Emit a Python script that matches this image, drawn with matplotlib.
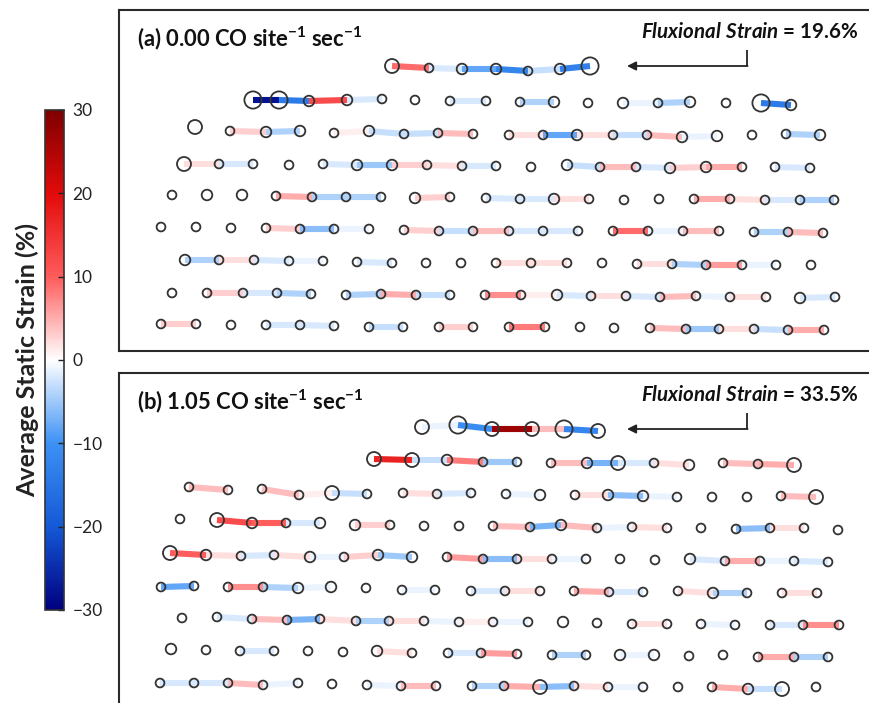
import numpy as np
import matplotlib
matplotlib.use('Agg')
import matplotlib.pyplot as plt
from matplotlib.colors import LinearSegmentedColormap, Normalize
from matplotlib.collections import LineCollection
from matplotlib.cm import ScalarMappable

n = np.nan

# ---------------- Panel (a): 0.00 CO site^-1 sec^-1 ----------------
a_x = [
    [392, 429, 462, 496, 528, 560, 590],
    [253, 279, 309, 347, 382, 415, 450, 486, 520, 554, 588, 623, 658, 690, 726, 761, 791],
    [195, 230, 266, 300, 334, 369, 404, 438, 473, 509, 543, 577, 613, 647, 682, 717, 752, 786, 820],
    [184, 219, 253, 289, 323, 357, 392, 427, 462, 496, 531, 567, 600, 636, 670, 706, 742, 775, 810],
    [172, 207, 242, 276, 312, 346, 381, 415, 450, 486, 520, 554, 589, 624, 659, 694, 730, 765, 800, 834],
    [161, 196, 231, 266, 300, 334, 369, 404, 439, 473, 509, 543, 578, 613, 648, 683, 719, 754, 788, 823],
    [185, 219, 254, 289, 323, 357, 392, 426, 461, 496, 531, 567, 602, 637, 672, 706, 742, 776, 811],
    [172, 207, 243, 277, 311, 346, 381, 416, 450, 485, 521, 557, 591, 626, 660, 696, 730, 766, 800, 835],
    [161, 196, 231, 266, 300, 334, 369, 403, 439, 473, 509, 545, 580, 614, 650, 686, 719, 754, 788, 824],
]
a_y = [
    [66, 68, 69, 69, 71, 69, 66],
    [100, 100, 101, 100, 99, 100, 101, 101, 102, 102, 103, 103, 103, 102, 103, 103, 105],
    [127, 131, 132, 131, 133, 131, 134, 133, 134, 135, 135, 135, 135, 135, 137, 136, 135, 134, 135],
    [164, 164, 164, 165, 164, 165, 165, 165, 166, 166, 167, 165, 167, 167, 168, 167, 167, 167, 168],
    [195, 195, 195, 196, 197, 197, 197, 198, 197, 198, 199, 199, 199, 200, 199, 199, 199, 200, 200, 200],
    [227, 227, 228, 228, 229, 229, 229, 230, 231, 231, 231, 231, 231, 231, 231, 231, 231, 232, 232, 233],
    [260, 260, 260, 261, 261, 262, 263, 263, 263, 263, 263, 263, 263, 264, 264, 265, 265, 265, 265],
    [293, 293, 293, 293, 294, 295, 294, 295, 295, 295, 295, 295, 296, 296, 297, 296, 297, 297, 298, 297],
    [324, 324, 325, 325, 325, 326, 327, 327, 327, 327, 327, 327, 327, 328, 328, 329, 329, 329, 330, 330],
]
a_size = [
    [3, 1, 2, 2, 1, 2, 4],
    [4, 4, 2, 2, 1, 1, 1, 1, 1, 2, 1, 2, 1, 2, 1, 4, 2],
    [3, 1, 2, 2, 1, 2, 1, 1, 1, 1, 1, 2, 1, 1, 2, 2, 1, 1, 2],
    [3, 1, 1, 1, 1, 2, 2, 1, 1, 1, 1, 2, 1, 1, 2, 2, 1, 1, 1],
    [1, 2, 2, 1, 1, 1, 1, 2, 1, 1, 1, 2, 1, 1, 1, 1, 1, 1, 1, 1],
    [1, 1, 1, 1, 1, 1, 1, 1, 1, 1, 1, 1, 1, 1, 1, 1, 1, 1, 1, 1],
    [2, 1, 1, 1, 1, 1, 1, 1, 1, 1, 1, 1, 1, 1, 1, 1, 1, 1, 1],
    [1, 1, 1, 1, 1, 1, 1, 1, 1, 1, 1, 2, 1, 1, 1, 1, 1, 1, 2, 1],
    [1, 1, 1, 1, 1, 1, 1, 1, 1, 1, 1, 1, 1, 1, 1, 1, 1, 1, 1, 1],
]
a_strain = [
    [9, -2, -8, -12, -3, -13],
    [-28, -14, 12, -2, n, n, -2, n, -4, n, n, -1, -4, n, n, -14],
    [n, 3, -4, n, 1, -3, -3, 4, n, 2, -8, 2, -3, 4, -1, n, n, -4],
    [2, -2, n, n, -2, -5, 3, 2, -2, n, n, -3, 4, -2, 3, 5, n, -2],
    [n, n, n, 5, -4, -4, n, 3, n, -2, -2, 2, n, n, n, 5, 2, -2, -4],
    [n, n, n, 3, -6, -1, n, 3, -3, 4, -2, -2, n, 9, -1, 4, n, -4, 4],
    [-4, 2, -2, -1, n, -2, n, n, n, 2, 2, n, n, 2, -4, 6, -1, n],
    [n, 3, -2, -4, n, -4, 5, -3, n, 7, 1, -2, 2, -2, 4, -1, 2, n, -2],
    [3, n, n, -2, -2, n, -3, n, 3, n, 8, n, n, n, 4, -5, 2, -3, 5],
]

# ---------------- Panel (b): 1.05 CO site^-1 sec^-1 ----------------
b_x = [
    [422, 458, 492, 532, 564, 598],
    [374, 412, 447, 483, 517, 551, 587, 618, 654, 689, 723, 758, 794],
    [189, 228, 262, 299, 332, 367, 403, 437, 471, 506, 540, 575, 608, 643, 677, 712, 747, 781, 816],
    [180, 217, 252, 286, 320, 355, 390, 424, 459, 493, 530, 561, 597, 632, 667, 701, 736, 770, 804, 838],
    [170, 206, 241, 274, 310, 344, 378, 412, 447, 483, 517, 552, 586, 620, 655, 690, 725, 760, 794, 828],
    [161, 194, 228, 263, 298, 331, 366, 402, 435, 471, 505, 540, 574, 609, 643, 678, 713, 747, 782, 817],
    [182, 217, 252, 287, 320, 356, 389, 424, 459, 493, 528, 563, 597, 632, 667, 701, 735, 770, 803, 839],
    [171, 206, 240, 274, 308, 343, 377, 412, 448, 481, 517, 552, 586, 620, 654, 689, 723, 758, 794, 828],
    [160, 194, 228, 263, 298, 332, 367, 401, 436, 472, 504, 540, 574, 608, 643, 678, 712, 748, 782, 816],
]
b_y = [
    [427, 425, 429, 429, 429, 431],
    [459, 460, 460, 462, 462, 463, 463, 463, 463, 465, 463, 464, 465],
    [487, 490, 489, 495, 493, 494, 493, 494, 493, 494, 495, 495, 495, 496, 497, 497, 497, 496, 497],
    [519, 520, 523, 523, 523, 525, 525, 526, 526, 526, 527, 525, 528, 527, 528, 528, 529, 528, 528, 530],
    [553, 555, 556, 555, 557, 557, 555, 557, 557, 559, 559, 559, 559, 559, 560, 559, 561, 561, 561, 562],
    [587, 586, 587, 587, 588, 587, 588, 590, 590, 591, 591, 591, 591, 592, 592, 591, 593, 593, 593, 593],
    [618, 617, 619, 620, 619, 621, 621, 621, 622, 622, 622, 622, 623, 624, 624, 624, 625, 625, 625, 625],
    [649, 650, 651, 651, 651, 652, 651, 653, 653, 653, 654, 655, 655, 655, 655, 656, 655, 657, 657, 657],
    [683, 683, 683, 685, 683, 684, 685, 686, 686, 686, 686, 687, 686, 687, 687, 687, 687, 689, 689, 687],
]
b_size = [
    [3, 4, 3, 3, 4, 3],
    [3, 3, 2, 1, 1, 1, 2, 3, 1, 2, 1, 1, 3],
    [1, 1, 1, 1, 3, 1, 1, 1, 1, 1, 2, 1, 2, 2, 1, 1, 1, 1, 3],
    [1, 3, 2, 1, 2, 2, 1, 1, 1, 1, 1, 2, 1, 1, 1, 1, 1, 1, 1, 1],
    [3, 2, 1, 1, 2, 1, 2, 2, 1, 1, 1, 1, 1, 1, 1, 2, 1, 1, 1, 1],
    [1, 1, 1, 1, 2, 2, 1, 1, 1, 1, 1, 1, 1, 1, 1, 1, 2, 1, 1, 1],
    [1, 1, 1, 1, 1, 1, 1, 1, 1, 1, 1, 2, 1, 1, 1, 1, 1, 1, 1, 1],
    [2, 1, 1, 1, 1, 1, 2, 1, 1, 1, 1, 1, 1, 2, 2, 1, 1, 1, 1, 1],
    [1, 1, 1, 1, 1, 1, 1, 1, 1, 1, 1, 3, 1, 1, 1, 1, 1, 2, 3, 1],
]
b_strain = [
    [-1, -11, 27, 4, -12],
    [17, -3, 8, -5, n, 4, -7, -2, 2, n, 4, 5],
    [4, n, 4, 1, -3, n, 2, -2, n, -1, n, 2, -6, -1, n, n, n, 4],
    [n, 12, 10, -2, n, 3, n, n, n, 4, -7, 4, -1, 2, n, n, -6, 2, n],
    [10, 2, -2, 2, -1, 3, -5, n, 6, -6, 2, -1, n, n, n, -2, 5, -1, -2],
    [-8, n, 7, -4, -1, n, n, -1, n, -2, 2, n, 5, -2, n, 2, -4, n, 2],
    [n, -2, 4, -7, 2, -4, 2, -1, 1, -1, n, n, n, 2, n, -1, n, -2, 7],
    [n, n, -2, n, n, n, 2, n, -2, 6, n, -4, n, -1, n, n, n, 5, -4],
    [-2, -2, 4, -1, n, n, -1, 4, n, -4, 5, -6, 2, -1, n, n, 5, -3, n],
]

titles = [r"(a) 0.00 CO site$^{\mathbf{-1}}$ sec$^{\mathbf{-1}}$",
          r"(b) 1.05 CO site$^{\mathbf{-1}}$ sec$^{\mathbf{-1}}$"]
fluxional = ["19.6%", "33.5%"]
cbar_ticks = [-30, -20, -10, 0, 10, 20, 30]

# ---------------- style ----------------
plt.rcParams['font.family'] = ['Lato', 'DejaVu Sans']
plt.rcParams['mathtext.fontset'] = 'custom'
plt.rcParams['mathtext.rm'] = 'Lato'
plt.rcParams['mathtext.bf'] = 'Lato:bold'
plt.rcParams['mathtext.it'] = 'Lato:italic:bold'

W, H = 869, 703
fig = plt.figure(figsize=(W / 100, H / 100), dpi=100)


def fax(l, t, r, b):
    return fig.add_axes([l / W, 1 - b / H, (r - l) / W, (b - t) / H])


cmap = LinearSegmentedColormap.from_list('strain', [
    (0.0, (0.00, 0.00, 0.50)),
    (1 / 6, (0.08, 0.35, 0.84)),
    (2 / 6, (0.24, 0.57, 0.96)),
    (0.5, (1.00, 1.00, 1.00)),
    (4 / 6, (1.00, 0.36, 0.36)),
    (5 / 6, (0.89, 0.04, 0.04)),
    (1.0, (0.50, 0.00, 0.00)),
])
norm = Normalize(-30, 30)
radius_px = {1: 4.4, 2: 5.3, 3: 7.0, 4: 8.6}
edge = '#333333'


def draw_panel(ax, xs, ys, sizes, strains, top, bottom, title, flux):
    ax.set_xlim(119, 880)
    ax.set_ylim(bottom, top)
    ax.set_xticks([])
    ax.set_yticks([])
    for sp in ax.spines.values():
        sp.set_linewidth(1.5)
        sp.set_color('#2a2a2a')
    ax.spines['right'].set_visible(False)
    for x, y, s, v in zip(xs, ys, sizes, strains):
        x = np.asarray(x, float)
        y = np.asarray(y, float)
        v = np.asarray(v, float)
        segs, cols = [], []
        for i, val in enumerate(v):
            if np.isnan(val):
                continue
            segs.append([(x[i], y[i]), (x[i + 1], y[i + 1])])
            cols.append(cmap(norm(val)))
        ax.add_collection(LineCollection(segs, colors=cols, linewidths=4.4,
                                         capstyle='butt', zorder=2))
        ax.scatter(x, y, s=[(2 * radius_px[k] * 0.72) ** 2 for k in s],
                   facecolors='none', edgecolors=edge, linewidths=1.3, zorder=3)
    ax.text(137, top + 28, title, fontsize=15.8, fontweight='bold',
            ha='left', va='center', color='#111111')
    ax.text(858, top + 22, r"$\mathit{Fluxional\ Strain}$ = " + flux,
            fontsize=14.8, fontweight='bold', ha='right', va='center',
            color='#111111')
    ax.plot([747, 747], [top + 40, top + 56], color='#222222', lw=1.3,
            solid_capstyle='butt')
    ax.annotate('', xy=(627, top + 56), xytext=(747.6, top + 56),
                arrowprops=dict(arrowstyle='-|>', color='#222222', lw=1.3,
                                mutation_scale=13, shrinkA=0, shrinkB=0))


ax_a = fax(119, 10, 880, 351)
draw_panel(ax_a, a_x, a_y, a_size, a_strain, 10, 351, titles[0], fluxional[0])

ax_b = fax(119, 373, 880, 730)
draw_panel(ax_b, b_x, b_y, b_size, b_strain, 373, 730, titles[1], fluxional[1])
ax_b.spines['bottom'].set_visible(False)

cax = fax(45, 110, 64, 610)
cb = fig.colorbar(ScalarMappable(norm=norm, cmap=cmap), cax=cax)
cb.set_ticks(cbar_ticks)
cb.ax.tick_params(direction='in', length=4, width=1, labelsize=12.5,
                  colors='#222222', pad=6)
cb.outline.set_linewidth(1.2)
cb.outline.set_edgecolor('#333333')
cb.ax.set_ylabel('Average Static Strain (%)', fontsize=18, fontweight='bold',
                 color='#222222', labelpad=4)
cb.ax.yaxis.set_label_position('left')

fig.savefig('out.png', dpi=100)
